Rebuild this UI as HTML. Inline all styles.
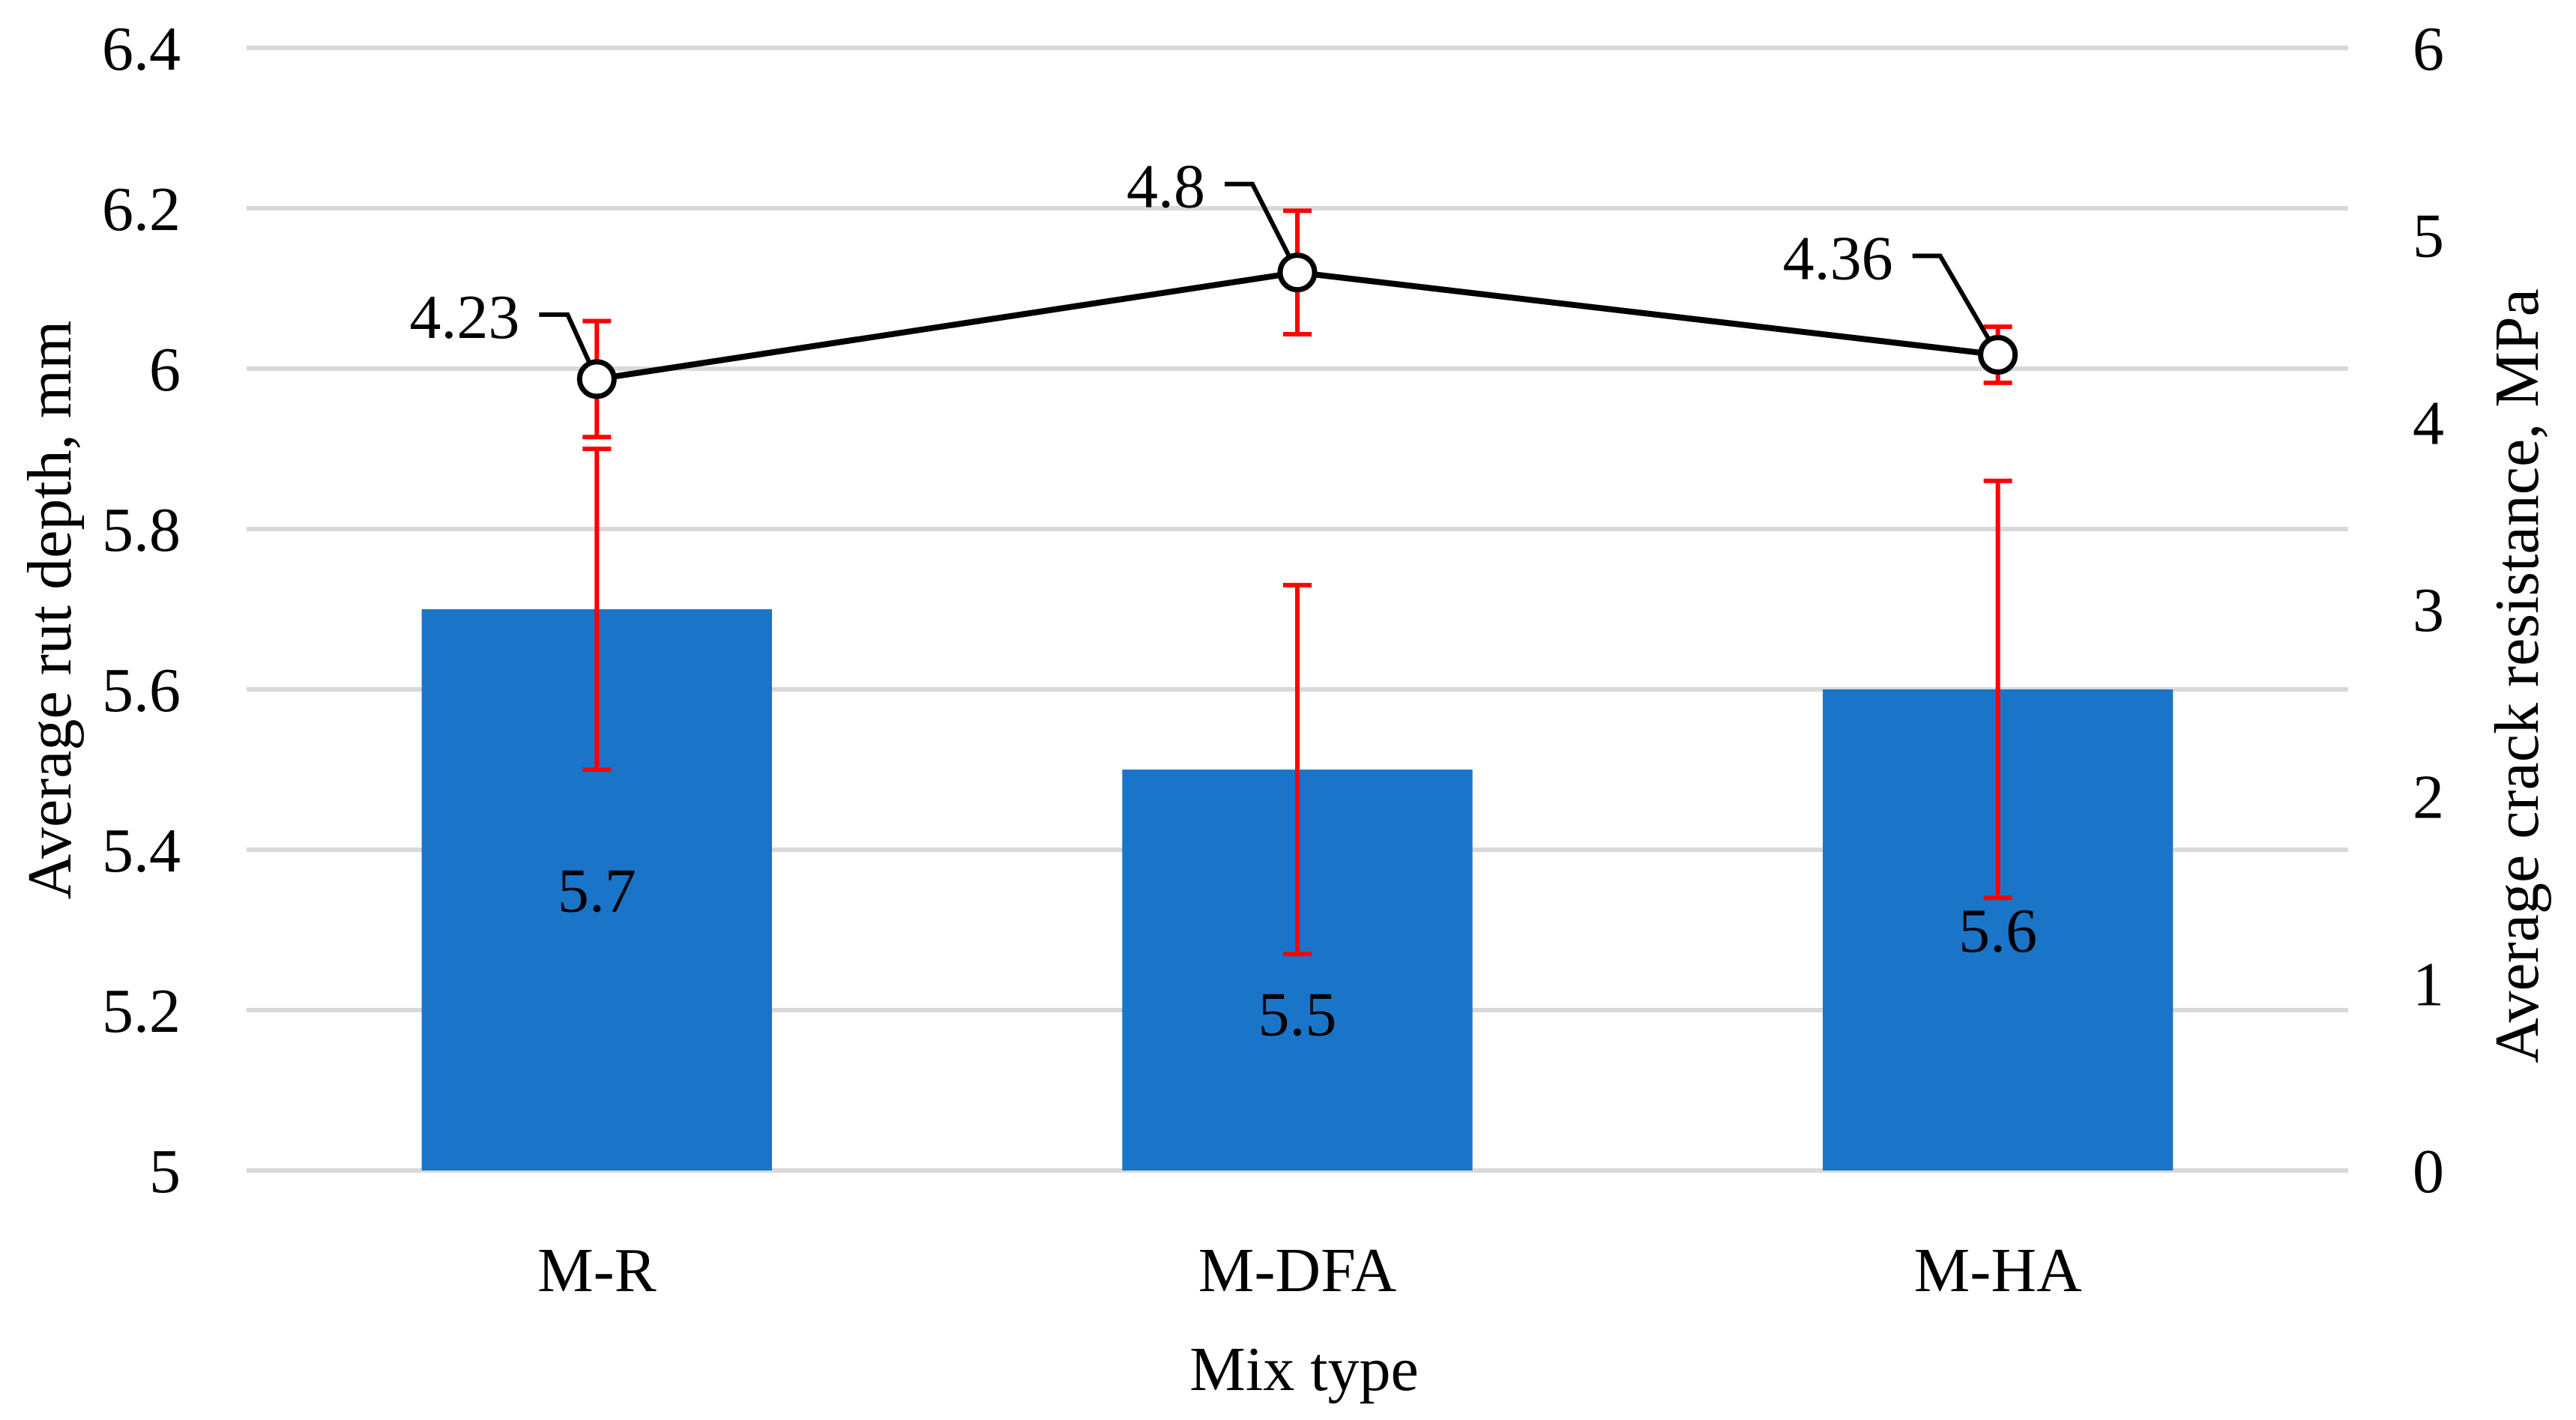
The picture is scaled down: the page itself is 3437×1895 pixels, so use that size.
<!DOCTYPE html>
<html><head><meta charset="utf-8">
<style>
html,body{margin:0;padding:0;background:#fff;}
svg{display:block;}
text{font-family:"Liberation Serif",serif;fill:#000;}
</style></head>
<body>
<svg id="chart" width="3437" height="1895" viewBox="0 0 3437 1895" xmlns="http://www.w3.org/2000/svg"></svg>
<script>
const categories = ["M-R", "M-DFA", "M-HA"];
const rutDepth = [5.7, 5.5, 5.6];
const rutErr = [0.2, 0.23, 0.26];
const crackRes = [4.23, 4.8, 4.36];
const crackErr = [0.31, 0.33, 0.15];
const leftTicks = [5, 5.2, 5.4, 5.6, 5.8, 6, 6.2, 6.4];
const leftTickLabels = ["5", "5.2", "5.4", "5.6", "5.8", "6", "6.2", "6.4"];
const rightTicks = [0, 1, 2, 3, 4, 5, 6];
const rightTickLabels = ["0", "1", "2", "3", "4", "5", "6"];

const svg = document.getElementById('chart');
const NS = 'http://www.w3.org/2000/svg';
const X0 = 329, X1 = 3133, YT = 64, YB = 1562;
const LMIN = 5, LMAX = 6.4, RMIN = 0, RMAX = 6;
const band = (X1 - X0) / categories.length;
const xC = i => X0 + band * (i + 0.5);
const yL = v => YB - (v - LMIN) / (LMAX - LMIN) * (YB - YT);
const yR = v => YB - (v - RMIN) / (RMAX - RMIN) * (YB - YT);
const labelOffsets = [[-77,-86,-39],[-97,-118,-60],[-114,-132,-77]];
const barLabelShift = [0, 58, 0];

function mk(tag, attrs, parent) {
  const e = document.createElementNS(NS, tag);
  for (const k in attrs) e.setAttribute(k, attrs[k]);
  (parent || svg).appendChild(e);
  return e;
}

leftTicks.forEach((t, i) => {
  const g = mk('line', {x1: X0, x2: X1, y1: yL(t), y2: yL(t), stroke: '#d9d9d9', 'stroke-width': 6});
  
  
  const tx = mk('text', {x: 241, y: yL(t) + 29, 'text-anchor': 'end', 'font-size': 84});
  tx.textContent = leftTickLabels[i];
  
  
});
rightTicks.forEach((t, i) => {
  const tx = mk('text', {x: 3219, y: yR(t) + 29, 'text-anchor': 'start', 'font-size': 84});
  tx.textContent = rightTickLabels[i];
  
  
});

const bw = band * 0.5;
categories.forEach((c, i) => {
  const y = yL(rutDepth[i]);
  const b = mk('rect', {x: xC(i) - bw / 2, y: y, width: bw, height: YB - y, fill: '#1a75c9'});
  
  
  const bl = mk('text', {x: xC(i), y: (y + YB) / 2 + 29 + barLabelShift[i], 'text-anchor': 'middle', 'font-size': 84});
  bl.textContent = rutDepth[i];
  
  
  const xl = mk('text', {x: xC(i), y: 1723, 'text-anchor': 'middle', 'font-size': 84});
  xl.textContent = c;
  
  
});

function errBar(x, yTop, yBot, name) {
  const g = mk('g', {stroke: '#ff0000', 'stroke-width': 6});
  
  
  mk('line', {x1: x, x2: x, y1: yTop, y2: yBot}, g);
  mk('line', {x1: x - 19, x2: x + 19, y1: yTop, y2: yTop}, g);
  mk('line', {x1: x - 19, x2: x + 19, y1: yBot, y2: yBot}, g);
}
categories.forEach((c, i) => {
  errBar(xC(i), yL(rutDepth[i] + rutErr[i]), yL(rutDepth[i] - rutErr[i]), 'rut-error-bar');
  errBar(xC(i), yR(crackRes[i] + crackErr[i]), yR(crackRes[i] - crackErr[i]), 'crack-error-bar');
});

const pts = crackRes.map((v, i) => xC(i) + ',' + yR(v)).join(' ');
const ln = mk('polyline', {points: pts, fill: 'none', stroke: '#000', 'stroke-width': 8});



crackRes.forEach((v, i) => {
  const px = xC(i), py = yR(v), o = labelOffsets[i];
  const ld = mk('polyline', {points: (px+o[0])+','+(py+o[1])+' '+(px+o[2])+','+(py+o[1])+' '+px+','+py, fill: 'none', stroke: '#000', 'stroke-width': 6});
  
  
  const m = mk('circle', {cx: px, cy: py, r: 23, fill: '#fff', stroke: '#000', 'stroke-width': 7});
  
  
  const t = mk('text', {x: px + o[0] - 26, y: py + o[1] + 31, 'text-anchor': 'end', 'font-size': 84});
  t.textContent = v;
  
  
});

const yt = mk('text', {x: 0, y: 0, 'text-anchor': 'middle', 'font-size': 84, transform: 'translate(94,814) rotate(-90)'});
yt.textContent = 'Average rut depth, mm';


const yt2 = mk('text', {x: 0, y: 0, 'text-anchor': 'middle', 'font-size': 84, transform: 'translate(3386,902) rotate(-90)'});
yt2.textContent = 'Average crack resistance, MPa';


const xt = mk('text', {x: 1740, y: 1855, 'text-anchor': 'middle', 'font-size': 84});
xt.textContent = 'Mix type';


</script>
</body></html>
